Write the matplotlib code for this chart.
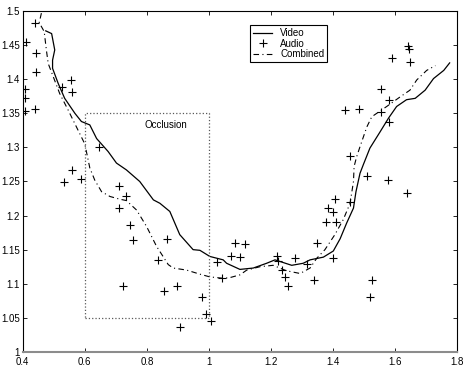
import matplotlib
matplotlib.use("Agg")
import matplotlib.pyplot as plt

plt.rcParams['font.family'] = ['Liberation Sans', 'DejaVu Sans']

audio_x = [0.439, 0.410, 0.442, 0.442, 0.406, 0.406, 0.406, 0.439, 0.557, 0.559,
           0.527, 0.645, 0.560, 0.532, 0.589, 0.710, 0.734, 0.710, 0.747, 0.756,
           0.866, 0.836, 0.724, 0.855, 0.896, 0.978, 0.991, 1.007, 0.906, 1.027,
           1.041, 1.070, 1.085, 1.101, 1.115, 1.218, 1.224, 1.237, 1.244, 1.255,
           1.277, 1.317, 1.339, 1.347, 1.400, 1.377, 1.409, 1.455, 1.509, 1.578,
           1.406, 1.383, 1.401, 1.455, 1.525, 1.519, 1.643, 1.646, 1.589, 1.648,
           1.555, 1.582, 1.439, 1.485, 1.555, 1.582, 1.640]
audio_y = [1.483, 1.454, 1.439, 1.410, 1.386, 1.372, 1.353, 1.356, 1.399, 1.382,
           1.388, 1.300, 1.267, 1.249, 1.254, 1.243, 1.229, 1.211, 1.186, 1.164,
           1.165, 1.135, 1.097, 1.090, 1.097, 1.080, 1.056, 1.045, 1.037, 1.132,
           1.109, 1.141, 1.160, 1.139, 1.158, 1.141, 1.133, 1.120, 1.110, 1.097,
           1.137, 1.129, 1.106, 1.160, 1.138, 1.191, 1.191, 1.288, 1.258, 1.252,
           1.225, 1.211, 1.205, 1.220, 1.106, 1.080, 1.449, 1.444, 1.431, 1.425,
           1.385, 1.370, 1.355, 1.356, 1.352, 1.337, 1.233]

video_x = [0.474, 0.493, 0.503, 0.496, 0.496, 0.514, 0.535, 0.568, 0.589, 0.616,
           0.638, 0.675, 0.702, 0.734, 0.777, 0.821, 0.842, 0.874, 0.906, 0.949,
           0.971, 1.003, 1.046, 1.057, 1.100, 1.143, 1.186, 1.213, 1.240, 1.267,
           1.304, 1.326, 1.369, 1.401, 1.423, 1.444, 1.466, 1.474, 1.487, 1.498,
           1.519, 1.552, 1.579, 1.605, 1.637, 1.665, 1.697, 1.724, 1.757, 1.776]
video_y = [1.471, 1.467, 1.443, 1.428, 1.416, 1.394, 1.372, 1.350, 1.338, 1.333,
           1.313, 1.294, 1.277, 1.267, 1.250, 1.223, 1.218, 1.206, 1.172, 1.150,
           1.149, 1.140, 1.135, 1.130, 1.121, 1.123, 1.130, 1.135, 1.131, 1.127,
           1.130, 1.135, 1.139, 1.148, 1.166, 1.189, 1.211, 1.235, 1.262, 1.275,
           1.299, 1.323, 1.343, 1.360, 1.370, 1.372, 1.384, 1.401, 1.413, 1.424]

comb_x = [0.460, 0.453, 0.469, 0.476, 0.482, 0.498, 0.519, 0.546, 0.573, 0.600,
          0.616, 0.632, 0.654, 0.681, 0.713, 0.734, 0.767, 0.799, 0.831, 0.869,
          0.885, 0.928, 0.971, 1.003, 1.046, 1.068, 1.100, 1.122, 1.165, 1.207,
          1.250, 1.294, 1.326, 1.347, 1.374, 1.406, 1.433, 1.455, 1.466, 1.468,
          1.476, 1.487, 1.509, 1.525, 1.573, 1.616, 1.648, 1.670, 1.702, 1.730]
comb_y = [1.497, 1.483, 1.470, 1.443, 1.423, 1.404, 1.379, 1.355, 1.330, 1.305,
          1.270, 1.252, 1.235, 1.228, 1.224, 1.222, 1.208, 1.184, 1.155, 1.128,
          1.123, 1.120, 1.114, 1.110, 1.108, 1.109, 1.113, 1.120, 1.125, 1.127,
          1.119, 1.115, 1.123, 1.137, 1.150, 1.172, 1.194, 1.218, 1.250, 1.272,
          1.286, 1.301, 1.330, 1.345, 1.360, 1.374, 1.384, 1.399, 1.413, 1.420]

occl_x = [0.6, 1.0, 1.0, 0.6, 0.6]
occl_y = [1.05, 1.05, 1.35, 1.35, 1.05]

x_ticks = [0.4, 0.6, 0.8, 1.0, 1.2, 1.4, 1.6, 1.8]
x_labels = ['0.4', '0.6', '0.8', '1', '1.2', '1.4', '1.6', '1.8']
y_ticks = [1.0, 1.05, 1.1, 1.15, 1.2, 1.25, 1.3, 1.35, 1.4, 1.45, 1.5]
y_labels = ['1', '1.05', '1.1', '1.15', '1.2', '1.25', '1.3', '1.35', '1.4', '1.45', '1.5']

fig = plt.figure(figsize=(4.65, 3.7), dpi=100)
ax = fig.add_axes([0.049, 0.049, 0.934, 0.921])

ax.plot(video_x, video_y, color='black', lw=0.9, ls='-', label='Video')
ax.plot(audio_x, audio_y, ls='none', marker='+', color='black', ms=5.5, mew=0.8, label='Audio')
ax.plot(comb_x, comb_y, color='black', lw=0.8, ls='-.', dashes=(5, 3, 1, 3), label='Combined')
ax.plot(occl_x, occl_y, color='0.35', lw=0.9, ls=':')
ax.text(0.86, 1.333, 'Occlusion', fontsize=7, ha='center', va='center')

ax.set_xlim(0.4, 1.8)
ax.set_ylim(1.0, 1.5)
ax.set_xticks(x_ticks)
ax.set_xticklabels(x_labels)
ax.set_yticks(y_ticks)
ax.set_yticklabels(y_labels)
ax.tick_params(direction='in', length=3, width=0.6, labelsize=7, pad=2,
               top=True, right=True)
ax.tick_params(axis='x', pad=4)
for s in ax.spines.values():
    s.set_linewidth(0.8)
ax.spines['bottom'].set_color('0.55')
ax.spines['bottom'].set_linewidth(1.5)

leg = ax.legend(loc='upper left', bbox_to_anchor=(0.523, 0.958), fontsize=7,
                frameon=True, fancybox=False, edgecolor='black', framealpha=1,
                handlelength=2.0, handletextpad=0.8, labelspacing=0.05,
                borderpad=0.3, borderaxespad=0)
leg.get_frame().set_linewidth(0.8)

fig.savefig('out.png', dpi=100)
